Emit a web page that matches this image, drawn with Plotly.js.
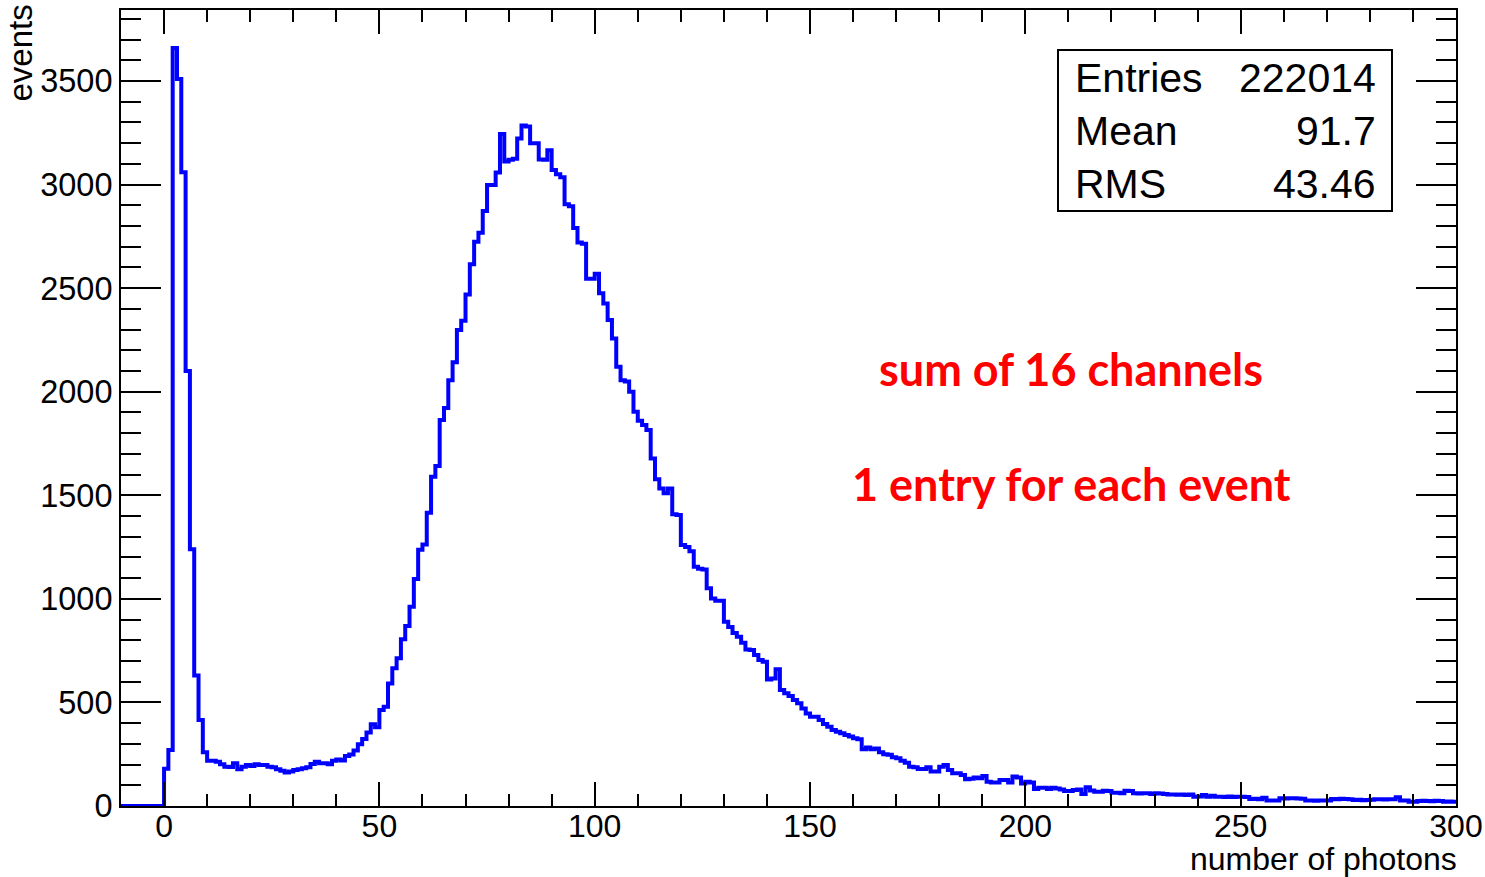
<!DOCTYPE html>
<html>
<head>
<meta charset="utf-8">
<script src="https://cdn.plot.ly/plotly-3.0.1.min.js"></script>
<style>
html,body{margin:0;padding:0;background:#fff;}
#chart{width:1485px;height:877px;}
</style>
</head>
<body>
<div id="chart"></div>
<script>
// Histogram: number of photons, bins of width 1 starting at -10
const binStart = -10;
const binWidth = 1;
const counts = [
  // -10 .. -1
  0,0,0,0,0,0,0,0,0,0,
  // 0 .. 9
  180,270,3660,3510,3060,2100,1240,630,415,260,
  // 10 .. 19
  219,219,214,201,190,188,206,177,190,198,
  // 20 .. 29
  193,201,198,198,190,187,177,170,162,166,
  // 30 .. 39
  174,177,182,187,203,214,206,206,201,219,
  // 40 .. 49
  225,220,241,249,268,298,324,355,395,380,
  // 50 .. 59
  463,479,592,665,713,805,869,962,1096,1237,
  // 60 .. 69
  1262,1416,1590,1641,1863,1921,2056,2142,2298,2343,
  // 70 .. 79
  2470,2616,2724,2767,2872,2998,2998,3059,3244,3112,
  // 80 .. 89
  3120,3125,3223,3285,3280,3200,3200,3121,3120,3166,
  // 90 .. 99
  3070,3050,3035,2905,2895,2790,2720,2715,2545,2545,
  // 100 .. 109
  2570,2475,2426,2346,2257,2121,2056,2050,2000,1903,
  // 110 .. 119
  1860,1840,1815,1678,1577,1533,1510,1533,1409,1405,
  // 120 .. 129
  1260,1250,1230,1155,1145,1142,1051,1002,991,991,
  // 130 .. 139
  890,864,835,817,788,756,753,729,705,697,
  // 140 .. 149
  611,616,660,560,544,531,512,496,471,447,
  // 150 .. 159
  431,431,415,396,383,367,359,351,343,335,
  // 160 .. 169
  327,322,274,283,274,278,260,250,248,235,
  // 170 .. 179
  230,219,209,190,187,179,179,187,166,166,
  // 180 .. 189
  190,198,174,158,158,150,129,132,138,134,
  // 190 .. 199
  145,117,114,114,125,125,113,142,138,109,
  // 200 .. 209
  117,113,82,88,88,82,88,85,80,72,
  // 210 .. 219
  72,77,80,58,90,75,69,69,74,72,
  // 220 .. 229
  64,64,62,74,72,61,60,62,61,58,
  // 230 .. 239
  61,60,58,55,55,54,56,53,55,45,
  // 240 .. 249
  46,53,45,50,45,45,44,46,44,45,
  // 250 .. 259
  45,44,34,35,33,40,26,27,26,37,
  // 260 .. 269
  36,38,37,36,35,26,27,25,26,27,
  // 270 .. 279
  26,34,33,35,34,33,29,30,28,29,
  // 280 .. 289
  30,32,33,31,32,33,42,26,27,20,
  // 290 .. 299
  21,24,25,24,23,25,24,21,22,21
];

const statLabels = ["Entries", "Mean", "RMS"];
const statValues = ["222014", "91.7", "43.46"];
const noteTexts = ["sum of 16 channels", "1 entry for each event"];
const xTitle = "number of photons";
const yTitle = "events";

// step outline: left edges of every bin plus the closing right edge
const xs = counts.map((_, i) => binStart + i * binWidth);
xs.push(binStart + counts.length * binWidth);
const ys = counts.slice();
ys.push(counts[counts.length - 1]);

const FONT = "Liberation Sans, Arial, Helvetica, sans-serif";

const trace = {
  type: "scatter",
  mode: "lines",
  x: xs,
  y: ys,
  line: {shape: "hv", color: "#0000ff", width: 4},
  hoverinfo: "x+y",
  showlegend: false
};

// plot frame in pixels: left 121, right 1456, top 10, bottom 806
const W = 1485, H = 877;
const L = 121, R = 1456, T = 10, B = 806;
const px = v => (v - L) / (R - L);
const py = v => (B - v) / (B - T);

const annotations = [];
const rowY = [78, 131, 184];
statLabels.forEach((s, i) => {
  annotations.push({xref: "paper", yref: "paper", x: px(1073), y: py(rowY[i]),
    xanchor: "left", yanchor: "middle", text: s, showarrow: false,
    font: {family: FONT, size: 41, color: "#000"}});
  annotations.push({xref: "paper", yref: "paper", x: px(1378), y: py(rowY[i]),
    xanchor: "right", yanchor: "middle", text: statValues[i], showarrow: false,
    font: {family: FONT, size: 41, color: "#000"}});
});
annotations.push({xref: "paper", yref: "paper", x: px(1071), y: py(369),
  xanchor: "center", yanchor: "middle", text: noteTexts[0], showarrow: false,
  font: {family: "Lato, 'Open Sans', sans-serif", size: 45, color: "#ff0000", weight: 700}});
annotations.push({xref: "paper", yref: "paper", x: px(1071), y: py(484),
  xanchor: "center", yanchor: "middle", text: noteTexts[1], showarrow: false,
  font: {family: "Lato, 'Open Sans', sans-serif", size: 45, color: "#ff0000", weight: 700}});
annotations.push({xref: "paper", yref: "paper", x: px(1458), y: py(859),
  xanchor: "right", yanchor: "middle", text: xTitle, showarrow: false, borderpad: 0,
  font: {family: FONT, size: 32, color: "#000"}});
annotations.push({xref: "paper", yref: "paper", x: px(20), y: py(3),
  xanchor: "center", yanchor: "top", text: yTitle, textangle: -90, showarrow: false,
  font: {family: FONT, size: 33, color: "#000"}});

const layout = {
  width: W, height: H,
  margin: {l: L, r: W - R, t: T, b: H - B, pad: 0},
  paper_bgcolor: "#fff", plot_bgcolor: "#fff",
  showlegend: false,
  xaxis: {
    range: [-10, 300], tickmode: "linear", tick0: 0, dtick: 50,
    ticks: "inside", ticklen: 24, tickwidth: 2, tickcolor: "#000",
    ticklabelstandoff: -9,
    showline: true, linecolor: "#000", linewidth: 2, mirror: "allticks",
    showgrid: false, zeroline: false,
    tickfont: {family: FONT, size: 32, color: "#000"},
    minor: {dtick: 10, ticks: "inside", ticklen: 12, tickwidth: 2, tickcolor: "#000", showgrid: false}
  },
  yaxis: {
    range: [0, 3843], tickmode: "linear", tick0: 0, dtick: 500,
    ticks: "inside", ticklen: 40, tickwidth: 2, tickcolor: "#000",
    showline: true, linecolor: "#000", linewidth: 2, mirror: "allticks",
    showgrid: false, zeroline: false,
    tickfont: {family: FONT, size: 32.5, color: "#000"},
    minor: {dtick: 100, ticks: "inside", ticklen: 20, tickwidth: 2, tickcolor: "#000", showgrid: false}
  },
  shapes: [{
    type: "rect", xref: "paper", yref: "paper",
    x0: px(1058), x1: px(1392), y0: py(211), y1: py(50),
    line: {color: "#000", width: 2}, fillcolor: "#fff", layer: "above"
  }],
  annotations: annotations
};

Plotly.newPlot("chart", [trace], layout, {displayModeBar: false, staticPlot: true});
</script>
</body>
</html>
